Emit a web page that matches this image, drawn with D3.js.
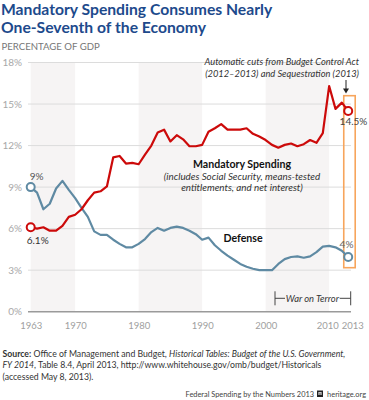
<!DOCTYPE html>
<html><head><meta charset="utf-8">
<script src="https://cdn.jsdelivr.net/npm/d3@7/dist/d3.min.js"></script>
<style>
html,body{margin:0;padding:0;background:#fff;}
svg{display:block;font-family:Lato,"Open Sans",sans-serif;}
</style></head>
<body>
<svg id="chart" width="369" height="400"></svg>
<script>
const years = [1963,1964,1965,1966,1967,1968,1969,1970,1971,1972,
 1973,1974,1975,1976,1977,1978,1979,1980,1981,1982,
 1983,1984,1985,1986,1987,1988,1989,1990,1991,1992,
 1993,1994,1995,1996,1997,1998,1999,2000,2001,2002,
 2003,2004,2005,2006,2007,2008,2009,2010,2011,2012,2013];
const mandatory = [6.1,6.0,6.1,5.85,5.85,6.2,6.85,7.0,7.4,8.05,
 8.6,8.7,9.05,11.15,11.25,10.7,10.75,10.65,11.35,12.0,
 12.95,13.15,12.3,12.75,12.45,11.95,11.95,12.05,13.0,13.25,
 13.55,13.15,13.15,13.15,13.25,12.85,12.65,12.4,12.05,11.85,
 12.05,12.15,11.95,12.1,12.4,12.2,12.9,16.3,14.65,15.1,14.5];
const defense = [9.0,8.6,7.4,7.8,8.9,9.45,8.8,8.2,7.5,6.85,
 5.8,5.55,5.55,5.2,4.9,4.65,4.65,4.9,5.25,5.75,
 6.05,5.85,6.05,6.15,6.05,5.85,5.6,5.2,5.35,4.8,
 4.4,4.05,3.75,3.45,3.25,3.1,3.0,3.0,3.0,3.45,
 3.8,3.95,4.0,3.9,4.0,4.3,4.7,4.75,4.65,4.4,3.95];
const yTicks = [0,3,6,9,12,15,18];
const xTicks = [1963,1970,1980,1990,2000,2010,2013];
const bands = [[1963,1970],[1980,1990],[2000,2010]];
const warOnTerror = [2001,2013];

const svg = d3.select("#chart");
const x = d3.scaleLinear().domain([1963,2013]).range([30.7,348.2]);
const y = d3.scaleLinear().domain([0,18]).range([311.7,62.5]);
const plotL = 28, plotR = 351;

// title
const title = svg.append("text").attr("fill","#1d4a8c").attr("font-weight","bold").attr("font-size",15.7);
title.append("tspan").attr("x",1).attr("y",15).text("Mandatory Spending Consumes Nearly");
title.append("tspan").attr("x",1).attr("y",33).text("One-Seventh of the Economy");

svg.append("text").attr("x",1.5).attr("y",50).attr("fill","#777").attr("font-size",9.6)
  .text("PERCENTAGE OF GDP");

// bands
svg.append("g").selectAll("rect").data(bands).join("rect")
  .attr("x",d=>x(d[0])).attr("width",d=>x(d[1])-x(d[0]))
  .attr("y",y(18)).attr("height",y(0)-y(18)).attr("fill","#f6f4f4");

// grid
const yAxis = d3.axisLeft(y).tickValues(yTicks).tickSize(0).tickPadding(0).tickFormat(d=>d+"%");
const gy = svg.append("g").attr("transform",`translate(22,0)`).call(yAxis);
gy.select(".domain").remove();
gy.selectAll("text").attr("fill","#a8a8a8").attr("font-size",10).attr("font-family","Lato,sans-serif");
svg.append("g").selectAll("line").data(yTicks.filter(d=>d>0)).join("line")
  .attr("x1",plotL).attr("x2",plotR).attr("y1",d=>y(d)).attr("y2",d=>y(d))
  .attr("stroke","#dcdcdc").attr("stroke-width",1);
svg.append("line").attr("x1",plotL).attr("x2",plotR).attr("y1",y(0)).attr("y2",y(0))
  .attr("stroke","#9a9a9a").attr("stroke-width",1.5);

// x axis labels
const xAxis = d3.axisBottom(x).tickValues(xTicks).tickSize(0).tickFormat(d3.format("d"));
const gx = svg.append("g").attr("transform",`translate(0,${y(0)+8})`).call(xAxis);
gx.select(".domain").remove();
gx.selectAll("text").attr("fill","#a0a0a0").attr("font-size",9.5).attr("font-family","Lato,sans-serif")
  .attr("dx",d=>d===2013?4:(d===2010?-2:0));

// orange box
svg.append("rect").attr("x",x(2012.3)).attr("y",95.7).attr("width",x(2013)-x(2012.3)+7)
  .attr("height",267.7-95.7).attr("fill","none").attr("stroke","#f7a55c").attr("stroke-width",1.6);

// lines
const line = d3.line().x((d,i)=>x(years[i])).y(d=>y(d));
svg.append("path").datum(defense).attr("d",line).attr("fill","none")
  .attr("stroke","#5f8aa3").attr("stroke-width",2.2).attr("stroke-linejoin","round");
svg.append("path").datum(mandatory).attr("d",line).attr("fill","none")
  .attr("stroke","#cc0a0a").attr("stroke-width",2.2).attr("stroke-linejoin","round");

const ends = [
  {s:defense,i:0,c:"#5f8aa3"},{s:defense,i:years.length-1,c:"#5f8aa3"},
  {s:mandatory,i:0,c:"#cc0a0a"},{s:mandatory,i:years.length-1,c:"#cc0a0a"}];
svg.append("g").selectAll("circle").data(ends).join("circle")
  .attr("cx",d=>x(years[d.i])).attr("cy",d=>y(d.s[d.i])).attr("r",4)
  .attr("fill","#fff").attr("stroke",d=>d.c).attr("stroke-width",2);

// value labels
svg.append("text").attr("x",x(1963)-1).attr("y",179.5).attr("fill","#555").attr("font-size",10).text("9%");
svg.append("text").attr("x",x(1963)-4).attr("y",244).attr("fill","#333").attr("font-size",10).text("6.1%");
svg.append("text").attr("x",353.5).attr("y",125).attr("fill","#444").attr("font-size",10).attr("text-anchor","middle").text("14.5%");
svg.append("text").attr("x",346.5).attr("y",248).attr("fill","#666").attr("font-size",10).attr("text-anchor","middle").text("4%");

// series labels
svg.append("text").attr("x",242).attr("y",168.3).attr("fill","#111").attr("font-size",10.6).attr("font-weight","bold").attr("text-anchor","middle").text("Mandatory Spending");
const sub = svg.append("text").attr("fill","#333").attr("font-size",9.8).attr("font-style","italic").attr("text-anchor","middle");
sub.append("tspan").attr("x",242).attr("y",179.5).text("(includes Social Security, means-tested");
sub.append("tspan").attr("x",242).attr("y",190.5).text("entitlements, and net interest)");
svg.append("text").attr("x",243).attr("y",241.5).attr("fill","#111").attr("font-size",10.6).attr("font-weight","bold").attr("text-anchor","middle").text("Defense");

// annotation
const ann = svg.append("text").attr("fill","#333").attr("font-size",9.3).attr("font-style","italic").attr("text-anchor","end");
ann.append("tspan").attr("x",359).attr("y",65).text("Automatic cuts from Budget Control Act");
ann.append("tspan").attr("x",359).attr("y",76.5).text("(2012–2013) and Sequestration (2013)");
svg.append("line").attr("x1",346).attr("x2",346).attr("y1",80).attr("y2",91).attr("stroke","#222").attr("stroke-width",1);
svg.append("path").attr("d","M343,88.5 L349,88.5 L346,93.5 Z").attr("fill","#222");

// war on terror
const wy = 298.3;
const w0 = x(warOnTerror[0]) + 3, w1 = x(warOnTerror[1]) + 2.5;
const wg = svg.append("g").attr("stroke","#444").attr("stroke-width",1);
wg.append("line").attr("x1",w0).attr("x2",w0).attr("y1",wy-7).attr("y2",wy+7);
wg.append("line").attr("x1",w1).attr("x2",w1).attr("y1",wy-7).attr("y2",wy+7);
wg.append("line").attr("x1",w0).attr("x2",w0+10).attr("y1",wy).attr("y2",wy);
wg.append("line").attr("x1",w1-11).attr("x2",w1).attr("y1",wy).attr("y2",wy);
svg.append("text").attr("x",(w0+10+w1-11)/2).attr("y",wy+3.3).attr("fill","#333").attr("font-size",9.4)
  .attr("font-style","italic").attr("text-anchor","middle").text("War on Terror");

// source
const src = svg.append("text").attr("fill","#333").attr("font-size",8.7);
const l1 = src.append("tspan").attr("x",2.5).attr("y",356.5);
l1.append("tspan").attr("font-weight","bold").text("Source:");
l1.append("tspan").text(" Office of Management and Budget, ");
l1.append("tspan").attr("font-style","italic").text("Historical Tables: Budget of the U.S. Government,");
const l2 = src.append("tspan").attr("x",2.5).attr("y",368.3);
l2.append("tspan").attr("font-style","italic").text("FY 2014");
l2.append("tspan").text(", Table 8.4, April 2013, http://www.whitehouse.gov/omb/budget/Historicals");
src.append("tspan").attr("x",2.5).attr("y",380).text("(accessed May 8, 2013).");

// footer
svg.append("text").attr("x",314).attr("y",397).attr("fill","#444").attr("font-size",7.4).attr("text-anchor","end")
  .text("Federal Spending by the Numbers 2013");
svg.append("text").attr("x",366).attr("y",397).attr("fill","#444").attr("font-size",7.4).attr("text-anchor","end")
  .text("heritage.org");
const bell = svg.append("g").attr("transform","translate(317,390.5)");
bell.append("rect").attr("x",0).attr("y",0).attr("width",6).attr("height",6.5).attr("fill","#222");
bell.append("rect").attr("x",1.5).attr("y",1.5).attr("width",3).attr("height",3).attr("fill","#fff");
bell.append("rect").attr("x",2.5).attr("y",2).attr("width",1).attr("height",3).attr("fill","#222");
</script>
</body></html>
